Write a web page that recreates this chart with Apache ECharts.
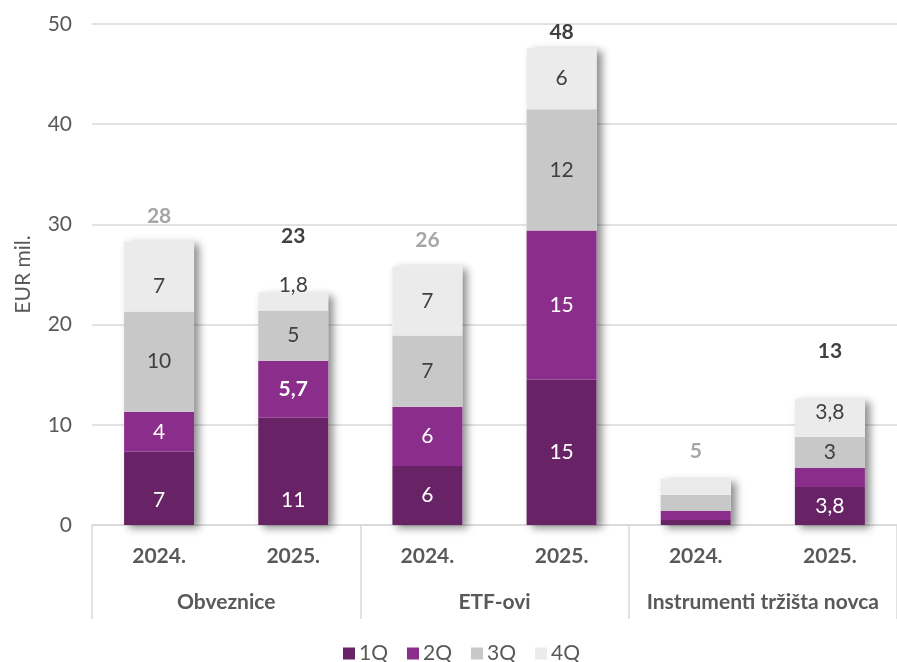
<!DOCTYPE html>
<html>
<head>
<meta charset="utf-8">
<script src="https://cdn.jsdelivr.net/npm/echarts@6/dist/echarts.min.js"></script>
<style>
html,body{margin:0;padding:0;background:#fff;}
#c{width:897px;height:662px;}
</style>
</head>
<body>
<div id="c"></div>
<script>
// ---- data ----
var years = ['2024.', '2025.', '2024.', '2025.', '2024.', '2025.'];
var groups = ['Obveznice', 'ETF-ovi', 'Instrumenti tržišta novca'];
var seriesNames = ['1Q', '2Q', '3Q', '4Q'];
var q1 = [7.3, 10.7, 5.9, 14.5, 0.5, 3.8];
var q2 = [4.0, 5.7, 5.9, 14.9, 0.9, 1.9];
var q3 = [10.0, 5.0, 7.1, 12.1, 1.6, 3.1];
var q4 = [7.0, 1.8, 6.9, 6.1, 1.6, 3.8];
var labels1 = ['7', '11', '6', '15', '', '3,8'];
var labels2 = ['4', '5,7', '6', '15', '', ''];
var labels3 = ['10', '5', '7', '12', '', '3'];
var labels4 = ['7', '1,8', '7', '6', '', '3,8'];
var yTicks = [0, 10, 20, 30, 40, 50];

// ---- styling ----
var colors = ['#672366', '#8b2d8a', '#c8c8c8', '#ebebeb'];
var labelColors = ['#ffffff', '#ffffff', '#404040', '#404040'];
var font = 'Lato, "Open Sans", sans-serif';
var fs = 21;
var textGrey = '#595959';
var lineGrey = '#d9d9d9';

var values = [q1, q2, q3, q4];
var labelSets = [labels1, labels2, labels3, labels4];
var totals = years.map(function (_, i) { return q1[i] + q2[i] + q3[i] + q4[i]; });

// per-item label tweaks (style only)
var labelTweaks = {
  '0-0': {position: 'insideBottom', distance: 14},
  '0-1': {position: 'insideBottom', distance: 14},
  '1-1': {fontWeight: 'bold'},
  '3-0': {offset: [0, 10]},
  '3-1': {offset: [0, -16]},
  '3-5': {offset: [0, -6]}
};
var totalDist = [15, 46, 16, 5, 17, 37];
var totalColors = ['#a6a6a6', '#404040', '#a6a6a6', '#404040', '#a6a6a6', '#404040'];

var series = [];
series.push({
  name: 'total',
  type: 'bar',
  barWidth: 70,
  barGap: '-100%',
  z: 1,
  silent: true,
  itemStyle: {
    color: '#ffffff',
    shadowColor: 'rgba(0,0,0,0.45)',
    shadowBlur: 8,
    shadowOffsetX: 5,
    shadowOffsetY: 3
  },
  data: totals.map(function (t, i) {
    return {
      value: t,
      label: {
        show: true,
        position: 'top',
        distance: totalDist[i],
        color: totalColors[i],
        fontWeight: 'bold',
        fontSize: fs,
        fontFamily: font,
        formatter: function () { return String(Math.round(t)); }
      }
    };
  })
});

seriesNames.forEach(function (name, s) {
  series.push({
    name: name,
    type: 'bar',
    stack: 'q',
    barWidth: 70,
    z: 2,
    itemStyle: {color: colors[s]},
    data: values[s].map(function (v, i) {
      var lab = {
        show: labelSets[s][i] !== '',
        position: 'inside',
        color: labelColors[s],
        fontSize: fs,
        fontFamily: font,
        formatter: labelSets[s][i]
      };
      var tw = labelTweaks[s + '-' + i];
      if (tw) { for (var k in tw) lab[k] = tw[k]; }
      return {value: v, label: lab};
    })
  });
});

var chart = echarts.init(document.getElementById('c'));
chart.setOption({
  animation: false,
  backgroundColor: '#ffffff',
  grid: {left: 92, top: 24, width: 813, height: 501, containLabel: false},
  legend: {
    data: seriesNames,
    top: 638,
    left: 338,
    icon: 'rect',
    itemWidth: 12,
    itemHeight: 12,
    itemGap: 19,
    textStyle: {color: textGrey, fontSize: fs, fontFamily: font, padding: [0, 0, 0, -1]}
  },
  xAxis: [
    {
      type: 'category',
      data: years,
      position: 'bottom',
      axisLine: {show: true, lineStyle: {color: lineGrey, width: 1.5}},
      axisTick: {show: false},
      axisLabel: {interval: 0, color: textGrey, fontSize: fs, fontWeight: 'bold', fontFamily: font, margin: 21}
    },
    {
      type: 'category',
      data: groups,
      position: 'bottom',
      axisLine: {show: false},
      axisTick: {show: true, interval: 0, length: 94, lineStyle: {color: lineGrey, width: 1.5}},
      axisLabel: {interval: 0, hideOverlap: false, color: textGrey, fontSize: fs, fontWeight: 'bold', fontFamily: font, margin: 67}
    }
  ],
  yAxis: {
    type: 'value',
    min: yTicks[0],
    max: yTicks[yTicks.length - 1],
    interval: yTicks[1] - yTicks[0],
    name: 'EUR mil.',
    nameLocation: 'middle',
    nameGap: 58,
    nameTextStyle: {color: textGrey, fontSize: fs, fontFamily: font},
    axisLine: {show: false},
    axisTick: {show: false},
    axisLabel: {color: textGrey, fontSize: fs, fontFamily: font, margin: 20},
    splitLine: {lineStyle: {color: lineGrey, width: 1.5}}
  },
  series: series
});
</script>
</body>
</html>
